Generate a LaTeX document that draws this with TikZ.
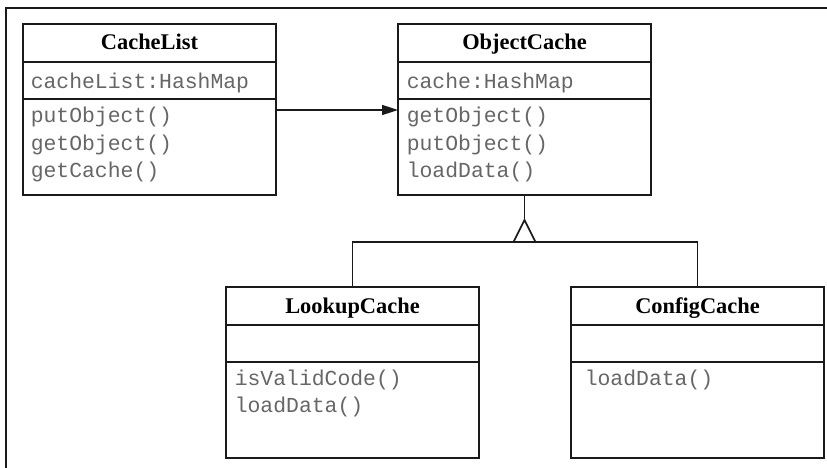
\documentclass[tikz,border=0pt]{standalone}
\usepackage{fontspec}
\newfontfamily\monof{Liberation Mono}
\newfontfamily\hdrfont{Liberation Serif}
\usetikzlibrary{arrows.meta,calc}
\definecolor{ln}{HTML}{1A1A1A}
\definecolor{tx}{HTML}{666666}
\begin{document}
\begin{tikzpicture}[x=1pt,y=-1pt,line width=1.6pt,draw=ln,
  box/.style={draw=ln,line width=1.6pt,minimum width=253pt,minimum height=171pt,inner sep=0pt,outer sep=0pt,anchor=north west},
  hdr/.style={font=\hdrfont\bfseries\fontsize{22.4}{26}\selectfont,text=black,inner sep=0pt,anchor=base},
  mem/.style={font=\monof\fontsize{21.4}{26}\selectfont,text=tx,inner sep=0pt,anchor=base west},
  sep/.style={draw=ln,line width=1.6pt}]
\useasboundingbox (0,0) rectangle (827,468);
% frame
\draw (6,468) -- (6,8) -- (827,8);
% boxes
\node[box] (cl) at (23,24) {};
\node[box] (oc) at (398,24) {};
\node[box] (lc) at (226,287) {};
\node[box] (cc) at (571,287) {};
% separators
\foreach \b in {cl,oc,lc,cc}{
  \draw[sep] ($(\b.north west)+(0,38)$) -- ($(\b.north east)+(0,38)$);
  \draw[sep] ($(\b.north west)+(0,75)$) -- ($(\b.north east)+(0,75)$);
}
% headers
\node[hdr] (clh) at ($(cl.north)+(0,26)$) {CacheList};
\node[hdr] (och) at ($(oc.north)+(0,26)$) {ObjectCache};
\node[hdr] (lch) at ($(lc.north)+(0,26)$) {LookupCache};
\node[hdr] (cch) at ($(cc.north)+(0,26)$) {ConfigCache};
% members
\node[mem] (cla) at ($(cl.north west)+(7,65)$) {cacheList:HashMap};
\node[mem] (clm1) at ($(cl.north west)+(7,99)$) {putObject()};
\node[mem] (clm2) at ($(cl.north west)+(7,126)$) {getObject()};
\node[mem] (clm3) at ($(cl.north west)+(7,153)$) {getCache()};
\node[mem] (oca) at ($(oc.north west)+(8,65)$) {cache:HashMap};
\node[mem] (ocm1) at ($(oc.north west)+(8,99)$) {getObject()};
\node[mem] (ocm2) at ($(oc.north west)+(8,126)$) {putObject()};
\node[mem] (ocm3) at ($(oc.north west)+(8,153)$) {loadData()};
\node[mem] (lcm1) at ($(lc.north west)+(8,98)$) {isValidCode()};
\node[mem] (lcm2) at ($(lc.north west)+(8,125)$) {loadData()};
\node[mem] (ccm1) at ($(cc.north west)+(13,98)$) {loadData()};
% association
\draw[-{Triangle[length=16pt,width=10pt]}] (cl.east |- 0,110) -- (oc.west |- 0,110);
% generalization
\coordinate (ta) at ($(oc.south)+(0,25)$);
\coordinate (tb) at ($(oc.south)+(0,47)$);
\draw (oc.south) -- (ta);
\draw (lc.north) -- (lc.north |- tb) -- (cc.north |- tb) -- (cc.north);
\draw[fill=white] ($(tb)+(-11,0)$) -- (ta) -- ($(tb)+(11,0)$) -- cycle;
\end{tikzpicture}
\end{document}
